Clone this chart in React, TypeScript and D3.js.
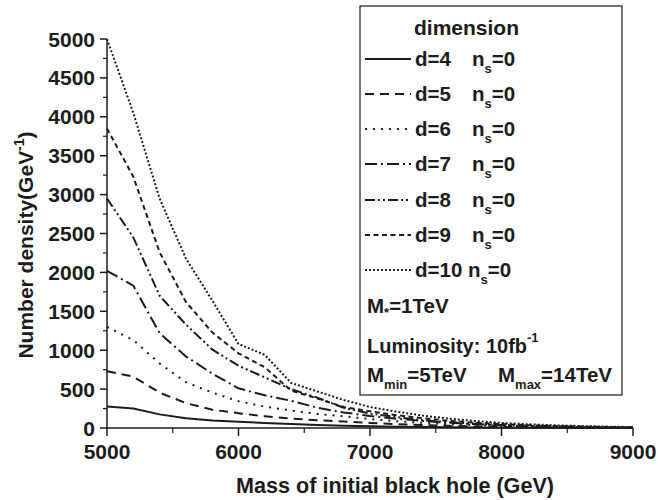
import React from 'react';
import * as d3 from 'd3';

// Mass of initial black hole (GeV)
const massGeV = [5000, 5200, 5400, 5600, 5800, 6000, 6200, 6400, 6600, 6800, 7000, 7200, 7400, 7600, 7800, 8000, 8200, 8400, 8600, 8800, 9000];

// Number density (GeV^-1) per dimension
const d4 = [275, 250, 175, 125, 97, 80, 64, 50, 40, 30, 22, 16, 12, 9, 6, 4, 3, 2, 1, 1, 0];
const d5 = [730, 660, 455, 320, 235, 190, 152, 120, 100, 82, 65, 50, 38, 28, 20, 14, 10, 7, 5, 3, 2];
const d6 = [1300, 1130, 830, 590, 455, 345, 275, 225, 180, 150, 115, 88, 66, 50, 37, 27, 19, 13, 9, 6, 4];
const d7 = [2020, 1830, 1220, 920, 700, 510, 420, 350, 260, 200, 155, 120, 90, 67, 50, 36, 26, 18, 12, 8, 5];
const d8 = [2950, 2450, 1700, 1330, 1010, 800, 650, 500, 390, 260, 185, 140, 100, 75, 55, 40, 28, 20, 14, 9, 6];
const d9 = [3850, 3230, 2260, 1620, 1230, 960, 780, 480, 380, 270, 215, 165, 125, 92, 68, 50, 36, 26, 18, 12, 8];
const d10 = [5000, 4050, 2950, 2180, 1640, 1080, 940, 580, 470, 360, 270, 210, 160, 120, 90, 65, 48, 35, 25, 18, 12];

const seriesNames = ['d=4', 'd=5', 'd=6', 'd=7', 'd=8', 'd=9', 'd=10'];
const seriesValues = [d4, d5, d6, d7, d8, d9, d10];
const dashes = ['none', '9,6', '2,6', '12,4,2,4', '10,3,2,3,2,3', '5,3.5', '2,2'];

const xTicks = [5000, 6000, 7000, 8000, 9000];
const xMinor = [5500, 6500, 7500, 8500];
const yTicks = [0, 500, 1000, 1500, 2000, 2500, 3000, 3500, 4000, 4500, 5000];
const yMinor = [250, 750, 1250, 1750, 2250, 2750, 3250, 3750, 4250, 4750];

const FONT = '"Liberation Sans", Arial, Helvetica, sans-serif';
const INK = '#1c1c1c';

export default function App() {
  const x = d3.scaleLinear().domain([5000, 9000]).range([107, 633]);
  const y = d3.scaleLinear().domain([0, 5000]).range([428, 39]);
  const line = d3.line<[number, number]>().x(d => x(d[0])).y(d => y(d[1])).curve(d3.curveLinear);

  const rowBase = [66, 101, 136, 171, 207, 242, 277];

  return (
    <svg width={658} height={500} style={{ position: 'absolute', left: 0, top: 0, background: '#fff' }}
      fontFamily={FONT} fontWeight="bold" fill={INK}>
      <rect x={0} y={0} width={658} height={500} fill="#fff" />
      {/* curves */}
      {seriesValues.map((vals, i) => (
        <path key={i} d={line(massGeV.map((m, j) => [m, vals[j]] as [number, number])) || ''}
          fill="none" stroke={INK} strokeWidth={2}
          strokeDasharray={dashes[i] === 'none' ? undefined : dashes[i]} />
      ))}
      {/* axes */}
      <line x1={107} x2={107} y1={y(5000)} y2={y(0)} stroke={INK} strokeWidth={1.5} />
      <line x1={107} x2={633} y1={y(0)} y2={y(0)} stroke={INK} strokeWidth={1.5} />
      {yTicks.map(t => (
        <g key={'y' + t}>
          <line x1={100} x2={107} y1={y(t)} y2={y(t)} stroke={INK} strokeWidth={1.5} />
          <text x={95} y={y(t)} dy="0.36em" textAnchor="end" fontSize={21}>{t}</text>
        </g>
      ))}
      {yMinor.map(t => (
        <line key={'ym' + t} x1={103} x2={107} y1={y(t)} y2={y(t)} stroke={INK} strokeWidth={1.2} />
      ))}
      {xTicks.map(t => (
        <g key={'x' + t}>
          <line x1={x(t)} x2={x(t)} y1={428} y2={436} stroke={INK} strokeWidth={1.5} />
          <text x={x(t)} y={459} textAnchor="middle" fontSize={21}>{t}</text>
        </g>
      ))}
      {xMinor.map(t => (
        <line key={'xm' + t} x1={x(t)} x2={x(t)} y1={428} y2={433} stroke={INK} strokeWidth={1.2} />
      ))}
      {/* axis titles */}
      <text x={395} y={493} textAnchor="middle" fontSize={21.6}>Mass of initial black hole (GeV)</text>
      <text transform="translate(33,245) rotate(-90)" textAnchor="middle" fontSize={21}>
        Number density(GeV<tspan fontSize={14} dy={-9}>-1</tspan><tspan dy={9}>)</tspan>
      </text>
      {/* legend */}
      <rect x={360} y={6} width={262} height={389} fill="#fff" stroke={INK} strokeWidth={1.2} />
      <text x={414} y={35} fontSize={21}>dimension</text>
      {seriesNames.map((name, i) => (
        <g key={'leg' + i}>
          <line x1={365} x2={411} y1={rowBase[i] - 7} y2={rowBase[i] - 7} stroke={INK} strokeWidth={2}
            strokeDasharray={dashes[i] === 'none' ? undefined : dashes[i]} />
          <text x={415} y={rowBase[i]} fontSize={20.5}>{name}</text>
          <text x={i === 6 ? 468 : 472} y={rowBase[i]} fontSize={20.5}>n
            <tspan fontSize={13} dy={7}>s</tspan><tspan dy={-7}>=0</tspan>
          </text>
        </g>
      ))}
      <text x={367} y={313} fontSize={20.5}>M<tspan fontSize={13} dy={4}>*</tspan><tspan dy={-4}>=1TeV</tspan></text>
      <text x={367} y={353} fontSize={20}>Luminosity: 10fb<tspan fontSize={13} dy={-11}>-1</tspan></text>
      <text x={367} y={382} fontSize={20.5}>M<tspan fontSize={13} dy={7}>min</tspan><tspan dy={-7}>=5TeV</tspan></text>
      <text x={498} y={382} fontSize={20.5}>M<tspan fontSize={13} dy={7}>max</tspan><tspan dy={-7}>=14TeV</tspan></text>
    </svg>
  );
}
